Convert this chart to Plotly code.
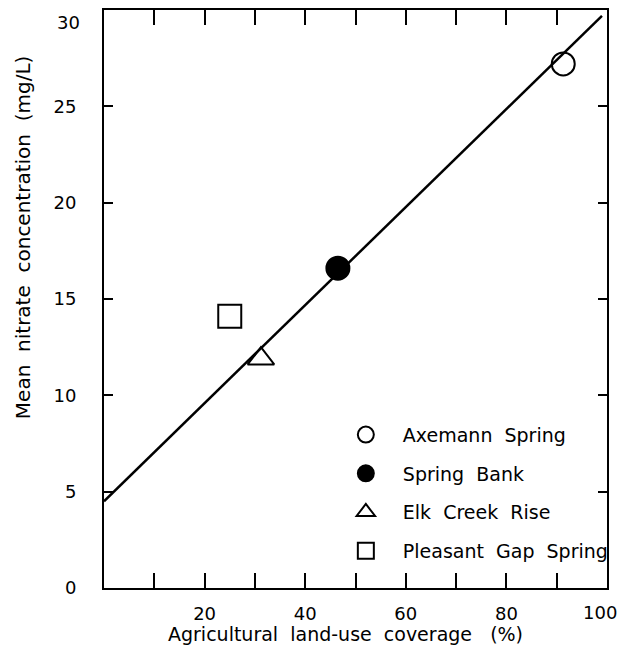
import plotly.graph_objects as go

# Data
sites = ["Axemann  Spring", "Spring  Bank", "Elk  Creek  Rise", "Pleasant  Gap  Spring"]
ag_coverage = [91.3, 46.5, 31.2, 25.0]
nitrate = [27.2, 16.6, 11.9, 14.1]
symbols = ["circle-open", "circle", "triangle-up-open", "square-open"]

fit_x = [0, 99]
fit_y = [4.5, 29.7]

x_tickvals = [10, 20, 30, 40, 50, 60, 70, 80, 90, 100]
x_ticktext = ["", "20", "", "40", "", "60", "", "80", "", ""]
x_end_label = 100
y_tickvals = [0, 5, 10, 15, 20, 25]
y_top_label = 30

x_title = "Agricultural  land-use  coverage   (%)"
y_title = "Mean  nitrate  concentration  (mg/L)"

FONT = "DejaVu Sans, Liberation Sans, Arial, sans-serif"

fig = go.Figure()
fig.add_trace(go.Scatter(x=fit_x, y=fit_y, mode="lines",
                         line=dict(color="black", width=2.5),
                         showlegend=False, hoverinfo="skip"))
for i, name in enumerate(sites):
    fig.add_trace(go.Scatter(
        x=[ag_coverage[i]], y=[nitrate[i]], mode="markers", name=name,
        legendgroup=name,
        marker=dict(symbol=symbols[i], size=23, color="black",
                    line=dict(color="black", width=2)),
    ))

# end labels drawn slightly inside the frame corners, as in the original
fig.add_annotation(x=0, xref="paper", y=y_top_label, yref="y",
                   text=str(y_top_label), showarrow=False,
                   xanchor="right", yanchor="middle", xshift=-22, yshift=-12,
                   font=dict(size=18, family=FONT, color="black"))
fig.add_annotation(x=x_end_label, xref="x", y=0, yref="paper",
                   text=str(x_end_label), showarrow=False,
                   xanchor="center", yanchor="top", xshift=-7, yshift=-12,
                   font=dict(size=18, family=FONT, color="black"))
# axis titles
fig.add_annotation(x=0, xref="paper", y=0.607, yref="paper",
                   text=y_title, showarrow=False, textangle=-90,
                   xanchor="center", yanchor="middle", xshift=-81,
                   font=dict(size=20, family=FONT, color="black"))
fig.add_annotation(x=0.481, xref="paper", y=0, yref="paper",
                   text=x_title, showarrow=False,
                   xanchor="center", yanchor="top", yshift=-33,
                   font=dict(size=19, family=FONT, color="black"))

fig.update_layout(
    width=617, height=639,
    margin=dict(l=96, r=18, t=2, b=59),
    paper_bgcolor="white", plot_bgcolor="white",
    font=dict(family=FONT, color="black", size=17),
    showlegend=True,
    legend=dict(x=0.447, y=0.298, xanchor="left", yanchor="top",
                bgcolor="rgba(0,0,0,0)", font=dict(size=19, family=FONT),
                tracegroupgap=11, itemwidth=64, itemsizing="trace"),
    xaxis=dict(range=[0, 100], tickvals=x_tickvals, ticktext=x_ticktext,
               ticks="inside", ticklen=15, tickwidth=2, tickcolor="black",
               showline=True, linecolor="black", linewidth=2, mirror="ticks",
               showgrid=False, zeroline=False, automargin=False,
               ticklabeloverflow="allow",
               tickfont=dict(size=18), ticklabelstandoff=8),
    yaxis=dict(range=[0, 30], tickvals=y_tickvals,
               ticks="inside", ticklen=9, tickwidth=2, tickcolor="black",
               showline=True, linecolor="black", linewidth=2, mirror="ticks",
               showgrid=False, zeroline=False, automargin=False,
               ticklabeloverflow="allow",
               tickfont=dict(size=18), ticklabelstandoff=22),
)

fig.write_html("out.html")
